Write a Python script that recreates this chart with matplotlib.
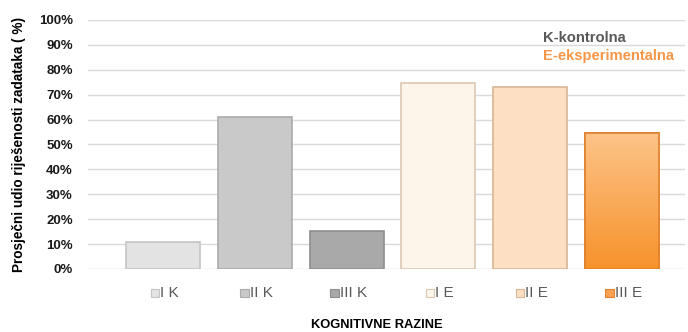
import matplotlib.pyplot as plt
import numpy as np
from matplotlib.colors import LinearSegmentedColormap
from matplotlib.offsetbox import AnnotationBbox, DrawingArea, HPacker, TextArea
from matplotlib.patches import Rectangle
from matplotlib.ticker import PercentFormatter

plt.rcParams["font.family"] = ["Liberation Sans", "DejaVu Sans"]

levels = ["I K", "II K", "III K", "I E", "II E", "III E"]
shares = [11, 61, 15.3, 74.6, 73, 54.7]
face_colors = ["#e3e3e3", "#c9c9c9", "#a9a9a9", "#fdf5ea", "#fde0c3", "#fba152"]
edge_colors = ["#c4c4c4", "#ababab", "#8e8e8e", "#dcc7b2", "#d8b696", "#e0822e"]

fig = plt.figure(figsize=(6.88, 3.32), dpi=100)
ax = fig.add_axes([0.128, 0.19, 0.868, 0.75])

x = np.arange(len(levels))
bars = ax.bar(x, shares, width=0.807, color=face_colors, edgecolor=edge_colors,
              linewidth=1.2, zorder=3)

# gradient on the last (orange) bar, edge redrawn on top
last = bars[-1]
grad = np.linspace(0, 1, 100).reshape(-1, 1)
cmap = LinearSegmentedColormap.from_list("org", ["#f7922b", "#fdc489"])
im = ax.imshow(grad, cmap=cmap, aspect="auto", origin="lower", zorder=3.5,
               extent=[last.get_x(), last.get_x() + last.get_width(), 0, last.get_height()])
im.set_clip_path(last)
ax.bar(x[-1:], shares[-1:], width=0.807, facecolor="none", edgecolor=edge_colors[-1],
       linewidth=1.2, zorder=4)

ax.set_xlim(-0.82, 5.69)
ax.set_ylim(0, 100)
ax.set_yticks(np.arange(0, 101, 10))
ax.yaxis.set_major_formatter(PercentFormatter(decimals=0))
ax.grid(axis="y", color="#d9d9d9", linewidth=1, zorder=0)
for s in ax.spines.values():
    s.set_visible(False)
ax.tick_params(axis="y", length=0, pad=11, labelsize=9.5)
ax.tick_params(axis="x", length=0, labelbottom=False)
for lab in ax.get_yticklabels():
    lab.set_fontweight("bold")
    lab.set_color("#1a1a1a")

ax.set_ylabel("Prosječni udio riješenosti zadataka ( %)", fontsize=9.8,
              fontweight="bold", labelpad=9)

# legend-like category labels under each bar
for xi, name, fc, ec in zip(x, levels, face_colors, edge_colors):
    da = DrawingArea(6, 6, 0, 0)
    da.add_artist(Rectangle((0, 0), 6, 6, facecolor=fc, edgecolor=ec, linewidth=0.8))
    ta = TextArea(name, textprops=dict(fontsize=11, color="#595959"))
    box = HPacker(children=[da, ta], pad=0, sep=1, align="center")
    ab = AnnotationBbox(box, (xi, -0.096), xycoords=ax.get_xaxis_transform(),
                        frameon=False, box_alignment=(0.45, 0.5), annotation_clip=False)
    ax.add_artist(ab)

fig.text(0.548, 0.021, "KOGNITIVNE RAZINE", fontsize=9.3, fontweight="bold",
         ha="center", va="center")

ax.text(0.762, 0.928, "K-kontrolna", transform=ax.transAxes, fontsize=10.6,
        fontweight="bold", color="#595959", va="center")
ax.text(0.762, 0.855, "E-eksperimentalna", transform=ax.transAxes, fontsize=10.6,
        fontweight="bold", color="#f79646", va="center")

fig.savefig("out.png", dpi=100)
